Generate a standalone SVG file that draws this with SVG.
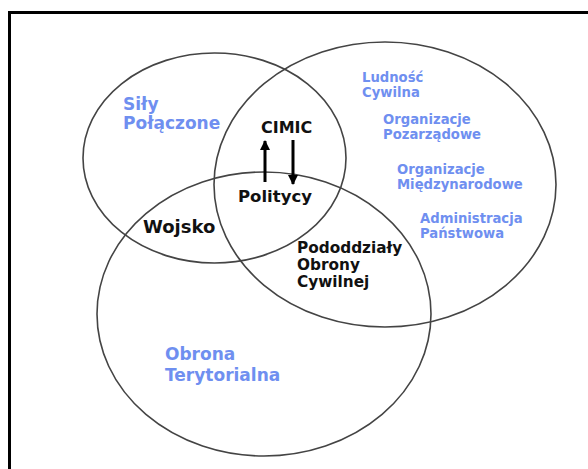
<svg xmlns="http://www.w3.org/2000/svg" width="588" height="469" viewBox="0 0 588 469">
<style>
.ring{fill:none;stroke:#444;stroke-width:1.6}
.b{font-family:"DejaVu Sans",sans-serif;font-weight:bold;fill:#6f8ff0}
.k{font-family:"DejaVu Sans",sans-serif;font-weight:bold;fill:#111}
.arr{stroke:#000;stroke-width:3;fill:none}
</style>
<defs>
<marker id="ah" viewBox="0 0 10 10" refX="9" refY="5" markerWidth="3.4" markerHeight="3.4" orient="auto" markerUnits="strokeWidth">
<path d="M0,0 L10,5 L0,10 Z" fill="#000"/>
</marker>
</defs>
<rect width="588" height="469" fill="#fff"/>
<path d="M9.5,469 V12.5 H588" fill="none" stroke="#000" stroke-width="3"/>
<g id="sily">
<ellipse class="ring" cx="214.5" cy="158" rx="131.5" ry="105"/>
<text class="b" font-size="17" x="123" y="110">Siły</text>
<text class="b" font-size="17" x="123" y="129">Połączone</text>
</g>
<g id="cywilne">
<ellipse class="ring" cx="385" cy="184.5" rx="171" ry="142.5"/>
<text class="b" font-size="13.2" x="362" y="82">Ludność</text>
<text class="b" font-size="13.2" x="362" y="97">Cywilna</text>
<text class="b" font-size="13.2" x="383" y="124">Organizacje</text>
<text class="b" font-size="13.2" x="383" y="139">Pozarządowe</text>
<text class="b" font-size="13.2" x="397" y="174">Organizacje</text>
<text class="b" font-size="13.2" x="397" y="189">Międzynarodowe</text>
<text class="b" font-size="13.2" x="420" y="223">Administracja</text>
<text class="b" font-size="13.2" x="420" y="238">Państwowa</text>
</g>
<g id="obrona">
<ellipse class="ring" cx="264" cy="314" rx="167" ry="142"/>
<text class="b" font-size="17" x="165" y="360">Obrona</text>
<text class="b" font-size="17" x="165" y="381">Terytorialna</text>
</g>
<g id="cimic"><text class="k" font-size="16" x="261" y="133">CIMIC</text></g>
<g id="politycy"><text class="k" font-size="16.5" x="238" y="202">Politycy</text></g>
<g id="wojsko"><text class="k" font-size="18" x="143" y="233">Wojsko</text></g>
<g id="pododdzialy">
<text class="k" font-size="15.3" x="297" y="253">Pododdziały</text>
<text class="k" font-size="15.3" x="297" y="270">Obrony</text>
<text class="k" font-size="15.3" x="297" y="287">Cywilnej</text>
</g>
<g id="connectors">
<line class="arr" x1="265" y1="182" x2="265" y2="141" marker-end="url(#ah)"/>
<line class="arr" x1="293" y1="140" x2="293" y2="184" marker-end="url(#ah)"/>
</g>
</svg>
